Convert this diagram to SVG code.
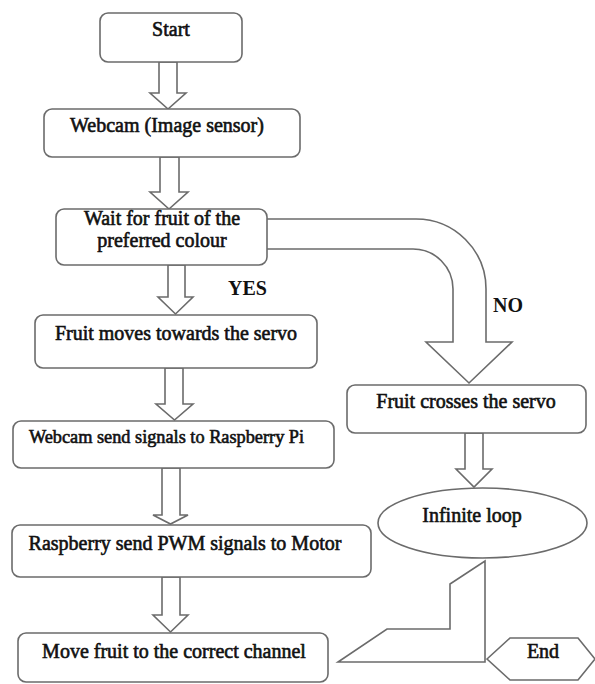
<svg xmlns="http://www.w3.org/2000/svg" width="595" height="684" viewBox="0 0 595 684">
<style>
.box{fill:#fff;stroke:#6b6b6b;stroke-width:1.6}
.arr{fill:#fff;stroke:#6b6b6b;stroke-width:1.6;stroke-linejoin:miter}
.t{font-family:"Liberation Serif","Times New Roman",serif;font-size:20px;fill:#111;stroke:#111;stroke-width:0.6;text-anchor:middle}
.b{font-family:"Liberation Serif","Times New Roman",serif;font-size:20px;font-weight:bold;fill:#111}
</style>
<rect width="595" height="684" fill="#fff"/>
<g id="connectors">
<polygon class="arr" points="159,62 177,62 177,93 186,93 168,109 150,93 159,93"/>
<polygon class="arr" points="160,157 179,157 179,192 188,192 169,209 150,192 160,192"/>
<polygon class="arr" points="168,265 185,265 185,297 193,297 175.5,314 158,297 168,297"/>
<polygon class="arr" points="165,368 183,368 183,404 193,404 174.5,420 156,404 165,404"/>
<polygon class="arr" points="162,468 180,468 180,515 188,515 170.5,524 153,515 162,515"/>
<polygon class="arr" points="162,577 180,577 180,615 188,615 170.5,632 153,615 162,615"/>
<polygon class="arr" points="465,433 483,433 483,469 492,469 474,487 456,469 465,469"/>
<path class="arr" d="M267,219 H416 A70,70 0 0 1 486,289 V342 H512 L469,383 L426,342 H453 V289 A40,40 0 0 0 413,249 H267"/>
<polygon class="arr" points="485,561 485,662 338,662 387,629 450,629 450,584"/>
<text class="b" x="228" y="295">YES</text>
<text class="b" x="493" y="312">NO</text>
</g>
<g id="start">
<rect class="box" x="100" y="13" width="142" height="49" rx="8"/>
<text class="t" x="171" y="36">Start</text>
</g>
<g id="webcam">
<rect class="box" x="44" y="109" width="256" height="48" rx="8"/>
<text class="t" x="167" y="132">Webcam (Image sensor)</text>
</g>
<g id="wait">
<rect class="box" x="56" y="209" width="211" height="56" rx="8"/>
<text class="t" x="162" y="225">Wait for fruit of the</text>
<text class="t" x="162" y="247">preferred colour</text>
</g>
<g id="fruit-moves">
<rect class="box" x="35" y="315" width="282" height="53" rx="8"/>
<text class="t" x="176" y="340">Fruit moves towards the servo</text>
</g>
<g id="fruit-crosses">
<rect class="box" x="347" y="385" width="239" height="48" rx="8"/>
<text class="t" x="466" y="408">Fruit crosses the servo</text>
</g>
<g id="webcam-send">
<rect class="box" x="13" y="421" width="321" height="47" rx="8"/>
<text class="t" x="166.5" y="443" style="font-size:18.3px">Webcam send signals to Raspberry Pi</text>
</g>
<g id="infinite-loop">
<ellipse class="box" cx="482.5" cy="523" rx="104.5" ry="35"/>
<text class="t" x="472" y="522">Infinite loop</text>
</g>
<g id="raspberry">
<rect class="box" x="12" y="525" width="359" height="52" rx="8"/>
<text class="t" x="185" y="550">Raspberry send PWM signals to Motor</text>
</g>
<g id="move-fruit">
<rect class="box" x="18" y="633" width="310" height="49" rx="8"/>
<text class="t" x="174" y="658">Move fruit to the correct channel</text>
</g>
<g id="end">
<polygon class="box" points="487,659 510,638 578,638 595,659 578,680 510,680"/>
<text class="t" x="543" y="658">End</text>
</g>
</svg>
